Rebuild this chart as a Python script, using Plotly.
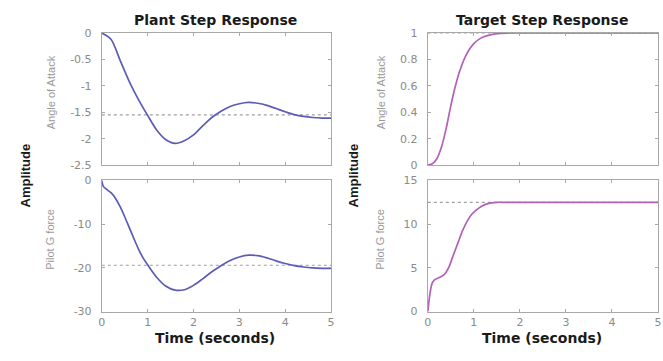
import plotly.graph_objects as go

# ---- data ----
plant_aoa_t = [0, 0.2, 0.4, 0.6, 0.8, 1.0, 1.2, 1.4, 1.6, 1.8, 2.0, 2.2, 2.4, 2.6, 2.8,
               3.0, 3.2, 3.4, 3.6, 3.8, 4.0, 4.2, 4.4, 4.6, 4.8, 5.0]
plant_aoa = [0, -0.12, -0.52, -0.92, -1.26, -1.56, -1.84, -2.02, -2.09, -2.04, -1.93,
             -1.76, -1.60, -1.48, -1.39, -1.34, -1.315, -1.33, -1.37, -1.43, -1.49,
             -1.545, -1.58, -1.60, -1.61, -1.61]
plant_aoa_ss = -1.55

plant_g_t = [0, 0.03, 0.1, 0.2, 0.3, 0.4, 0.5, 0.6, 0.7, 0.8, 0.9, 1.0, 1.2, 1.4, 1.6,
             1.8, 2.0, 2.2, 2.4, 2.6, 2.8, 3.0, 3.2, 3.4, 3.6, 3.8, 4.0, 4.2, 4.4, 4.6,
             4.8, 5.0]
plant_g = [0, -1.3, -2.0, -2.8, -4.1, -6.0, -8.3, -10.8, -13.3, -15.7, -17.7, -19.3,
           -22.2, -24.2, -25.1, -25.0, -24.0, -22.5, -20.9, -19.5, -18.3, -17.5, -17.1,
           -17.2, -17.7, -18.4, -19.0, -19.5, -19.8, -20.0, -20.1, -20.1]
plant_g_ss = -19.4

target_aoa_t = [0, 0.1, 0.2, 0.3, 0.4, 0.5, 0.6, 0.7, 0.8, 0.9, 1.0, 1.1, 1.2, 1.4, 1.6,
                1.8, 2.0, 3.0, 4.0, 5.0]
target_aoa = [0, 0.01, 0.05, 0.14, 0.28, 0.45, 0.60, 0.72, 0.81, 0.875, 0.92, 0.95,
              0.97, 0.99, 0.997, 1.0, 1.0, 1.0, 1.0, 1.0]
target_aoa_ss = 1.0

target_g_t = [0, 0.03, 0.06, 0.1, 0.15, 0.25, 0.35, 0.45, 0.55, 0.65, 0.75, 0.85, 0.95,
              1.05, 1.15, 1.3, 1.5, 1.7, 2.0, 3.0, 4.0, 5.0]
target_g = [0, 1.4, 2.5, 3.3, 3.65, 3.9, 4.2, 5.0, 6.4, 7.8, 9.2, 10.3, 11.1, 11.6,
            12.0, 12.35, 12.5, 12.5, 12.5, 12.5, 12.5, 12.5]
target_g_ss = 12.5

x_ticks = [0, 1, 2, 3, 4, 5]
aoa_plant_ticks = [0, -0.5, -1, -1.5, -2, -2.5]
g_plant_ticks = [0, -10, -20, -30]
aoa_target_ticks = [0, 0.2, 0.4, 0.6, 0.8, 1]
g_target_ticks = [0, 5, 10, 15]

titles = ["Plant Step Response", "Target Step Response"]
row_labels = ["Angle of Attack", "Pilot G force"]

# ---- styling ----
W, H = 663, 361
BLUE = "#5c5cb8"
MAG = "#b260b8"
AX = "#a8a8a8"
TICKFONT = dict(family="DejaVu Sans", size=11, color="#8a8a8a")


def fx(px):
    return px / W


def fy(py):
    return 1 - py / H


fig = go.Figure()

panels = [
    ("x", "y", plant_aoa_t, plant_aoa, plant_aoa_ss, BLUE),
    ("x2", "y2", plant_g_t, plant_g, plant_g_ss, BLUE),
    ("x3", "y3", target_aoa_t, target_aoa, target_aoa_ss, MAG),
    ("x4", "y4", target_g_t, target_g, target_g_ss, MAG),
]
for xa, ya, t, v, ss, col in panels:
    fig.add_trace(go.Scatter(x=[x_ticks[0], x_ticks[-1]], y=[ss, ss], mode="lines",
                             line=dict(color="#a0a0a0", width=1.1, dash="dot"),
                             xaxis=xa, yaxis=ya, showlegend=False, hoverinfo="skip"))
    fig.add_trace(go.Scatter(x=t, y=v, mode="lines",
                             line=dict(color=col, width=1.7, shape="spline", smoothing=0.8),
                             xaxis=xa, yaxis=ya, showlegend=False))

left_x = [fx(99), fx(331)]
right_x = [fx(429), fx(662)]
top_y = [fy(165), fy(28)]
bot_y = [fy(317), fy(181)]

common = dict(showline=True, mirror="ticks", linecolor=AX, linewidth=1,
              ticks="inside", ticklen=3, tickcolor=AX, showgrid=False,
              zeroline=False, tickfont=TICKFONT)

def xaxis(domain, anchor, labels):
    return dict(common, domain=domain, anchor=anchor, range=[0, 5], tickvals=x_ticks,
                showticklabels=labels)

def yaxis(domain, anchor, rng, tv):
    return dict(common, domain=domain, anchor=anchor, range=rng, tickvals=tv,
                ticktext=[("%g" % v) for v in tv], ticklabelstandoff=7)

fig.update_layout(
    width=W, height=H, margin=dict(l=0, r=0, t=0, b=0),
    paper_bgcolor="white", plot_bgcolor="white",
    xaxis=xaxis(left_x, "y", False),
    yaxis=yaxis(top_y, "x", [-2.5, 0], aoa_plant_ticks),
    xaxis2=xaxis(left_x, "y2", True),
    yaxis2=yaxis(bot_y, "x2", [-30, 0], g_plant_ticks),
    xaxis3=xaxis(right_x, "y3", False),
    yaxis3=yaxis(top_y, "x3", [0, 1], aoa_target_ticks),
    xaxis4=xaxis(right_x, "y4", True),
    yaxis4=yaxis(bot_y, "x4", [0, 15], g_target_ticks),
)

ann = []
for cx, title in zip([214, 545], titles):
    ann.append(dict(x=fx(cx), y=fy(15), xref="paper", yref="paper", text=title,
                    showarrow=False, xanchor="center", yanchor="middle",
                    font=dict(family="DejaVu Sans", size=14, color="#1a1a1a", weight="bold")))
    ann.append(dict(x=fx(cx), y=fy(344), xref="paper", yref="paper", text="Time (seconds)",
                    showarrow=False, xanchor="center", yanchor="middle",
                    font=dict(family="DejaVu Sans", size=14, color="#1a1a1a", weight="bold")))
for ax_x, lab_x in [(22, 47), (354, 381)]:
    ann.append(dict(x=fx(ax_x), y=fy(176), xref="paper", yref="paper", text="Amplitude",
                    showarrow=False, textangle=-90, xanchor="center", yanchor="middle",
                    font=dict(family="Liberation Sans", size=13, color="#1a1a1a", weight="bold")))
    for cy, lab in zip([89, 242], row_labels):
        ann.append(dict(x=fx(lab_x), y=fy(cy), xref="paper", yref="paper", text=lab,
                        showarrow=False, textangle=-90, xanchor="center", yanchor="middle",
                        font=dict(family="Liberation Sans", size=11, color="#9a9a9a")))
fig.update_layout(annotations=ann)

fig.write_html("out.html")
